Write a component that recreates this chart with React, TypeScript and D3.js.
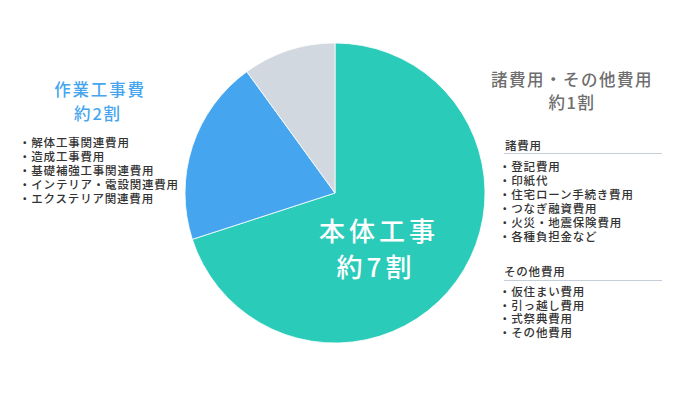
import * as d3 from "d3";

// 割合（円グラフ）
const categories = ["本体工事", "作業工事費", "諸費用・その他費用"];
const shares = [70, 20, 10];
const colors = ["#2bcbba", "#45a6ef", "#d1d8e0"];

// 左側の注記
const workTitle = ["作業工事費", "約2割"];
const workItems = [
  "解体工事関連費用",
  "造成工事費用",
  "基礎補強工事関連費用",
  "インテリア・電設関連費用",
  "エクステリア関連費用",
];

// 右側の注記
const miscTitle = ["諸費用・その他費用", "約1割"];
const miscGroup1 = "諸費用";
const miscItems1 = [
  "登記費用",
  "印紙代",
  "住宅ローン手続き費用",
  "つなぎ融資費用",
  "火災・地震保険費用",
  "各種負担金など",
];
const miscGroup2 = "その他費用";
const miscItems2 = ["仮住まい費用", "引っ越し費用", "式祭典費用", "その他費用"];

const mainLabel = ["本体工事", "約7割"];

const W = 680;
const H = 400;
const cx = 335;
const cy = 193;
const radius = 150;
const font = "'Noto Sans CJK JP', 'Noto Sans', sans-serif";

const App = () => {
  const pie = d3
    .pie<number>()
    .sort(null)
    .value(d => d);
  const arcs = pie(shares);
  const arc = d3.arc<d3.PieArcDatum<number>>().innerRadius(0).outerRadius(radius);

  return (
    <svg
      width={W}
      height={H}
      style={{ position: "absolute", left: 0, top: 0, display: "block", background: "#fff" }}
      fontFamily={font}
    >
      <g transform={`translate(${cx},${cy})`}>
        {arcs.map((a, i) => (
          <path key={categories[i]} d={arc(a) || ""} fill={colors[i]} stroke="#fff" strokeWidth={0.8} />
        ))}
      </g>

      {/* 本体工事ラベル */}
      <g fill="#fff" fontSize={26} fontWeight={500} textAnchor="middle" letterSpacing={4}>
        <text x={379} y={229} dominantBaseline="central">{mainLabel[0]}</text>
        <text x={376} y={265} dominantBaseline="central">{mainLabel[1]}</text>
      </g>

      {/* 左：作業工事費 */}
      <g fill="#45a6ef" fontSize={16.5} fontWeight={500} textAnchor="middle" letterSpacing={1.8}>
        <text x={100} y={89} dominantBaseline="central">{workTitle[0]}</text>
        <text x={98} y={113} dominantBaseline="central">{workTitle[1]}</text>
      </g>
      <g fill="#333" fontSize={11.5} fontWeight={500} letterSpacing={0.8}>
        {workItems.map((t, i) => (
          <text key={t} x={19} y={142 + i * 14} dominantBaseline="central">
            {"・" + t}
          </text>
        ))}
      </g>

      {/* 右：諸費用・その他費用 */}
      <g fill="#6e6e6e" fontSize={16.5} fontWeight={500} textAnchor="middle" letterSpacing={1.5}>
        <text x={572} y={79} dominantBaseline="central">{miscTitle[0]}</text>
        <text x={572} y={102} dominantBaseline="central">{miscTitle[1]}</text>
      </g>

      <g fill="#333" fontSize={11.5} fontWeight={500} letterSpacing={0.8}>
        <text x={505} y={145} dominantBaseline="central">{miscGroup1}</text>
        <line x1={504} x2={662} y1={153.5} y2={153.5} stroke="#c5ced8" strokeWidth={1} />
        {miscItems1.map((t, i) => (
          <text key={t} x={499} y={166 + i * 14} dominantBaseline="central">
            {"・" + t}
          </text>
        ))}

        <text x={504} y={271} dominantBaseline="central">{miscGroup2}</text>
        <line x1={504} x2={662} y1={280.5} y2={280.5} stroke="#c5ced8" strokeWidth={1} />
        {miscItems2.map((t, i) => (
          <text key={t} x={499} y={291 + i * 13.5} dominantBaseline="central">
            {"・" + t}
          </text>
        ))}
      </g>
    </svg>
  );
};

export default App;
